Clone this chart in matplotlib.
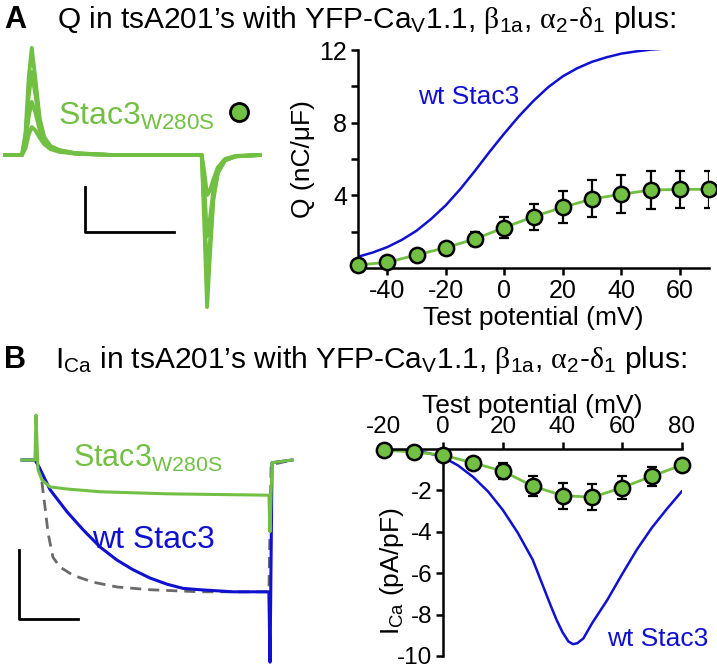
import matplotlib
matplotlib.use("Agg")
import matplotlib.pyplot as plt

plt.rcParams["font.family"] = ["Liberation Sans", "DejaVu Sans"]
plt.rcParams["mathtext.fontset"] = "custom"
plt.rcParams["mathtext.rm"] = "Liberation Sans"
plt.rcParams["mathtext.it"] = "Liberation Sans:italic"
plt.rcParams["mathtext.tt"] = "Liberation Serif"
plt.rcParams["axes.unicode_minus"] = False

GREEN = "#72c043"
BLUE = "#1010d0"
GREY = "#6a6a6a"

# ---- panel A, Q-V ----
qv_v = [-50, -40, -30, -20, -10, 0, 10, 20, 30, 40, 50, 60, 70]
qv_mut = [0.17, 0.31, 0.72, 1.12, 1.6, 2.22, 2.83, 3.34, 3.8, 4.06, 4.29, 4.33, 4.33]
qv_mut_err = [0.1, 0.12, 0.15, 0.18, 0.38, 0.57, 0.72, 0.89, 1.02, 1.05, 1.03, 1.0, 1.0]
qv_wt_v = [-50, -45, -40, -35, -30, -25, -20, -15, -10, -5, 0, 5, 10, 15, 20, 25,
           30, 35, 40, 45, 50, 55, 60, 65, 70]
qv_wt = [0.62, 0.85, 1.15, 1.55, 2.05, 2.7, 3.45, 4.35, 5.35, 6.4, 7.4, 8.35, 9.2,
         9.95, 10.55, 11.0, 11.35, 11.6, 11.8, 11.92, 12.02, 12.08, 12.12, 12.15, 12.17]

# ---- panel B, I-V ----
iv_v = [-20, -10, 0, 10, 20, 30, 40, 50, 60, 70, 80]
iv_mut = [-0.06, -0.14, -0.3, -0.67, -1.07, -1.79, -2.25, -2.33, -1.87, -1.31, -0.78]
iv_mut_err = [0.05, 0.08, 0.12, 0.22, 0.4, 0.48, 0.63, 0.64, 0.56, 0.46, 0.15]
iv_wt_v = [-20, -15, -10, -5, 0, 5, 10, 15, 20, 25, 30, 33, 36, 38, 40, 42, 43.5,
           45, 47, 50, 55, 60, 65, 70, 75, 80]
iv_wt = [0, -0.02, -0.08, -0.2, -0.4, -0.8, -1.35, -2.05, -2.95, -4.05, -5.35, -6.45,
         -7.55, -8.25, -8.85, -9.3, -9.43, -9.38, -9.15, -8.4, -7.3, -6.05, -4.85,
         -3.8, -2.9, -2.05]

# ---- gating current traces (ms, arbitrary units) ----
gq_t = [-1.9, 0.0, 0.4, 0.75, 1.1, 1.5, 2.0, 2.5, 3.2, 4.2, 6.0, 10.0, 15.0,
        20.2, 20.5, 20.8, 21.1, 21.5, 22.0, 22.8, 24.0, 26.7]
gq_traces = [
    [0, 0, 0.5, 1.7, 2.38, 1.7, 0.8, 0.4, 0.2, 0.11, 0.04, 0, 0, 0, -1.6, -3.38, -2.3, -1.0, -0.4, -0.12, -0.03, 0],
    [0, 0, 0.4, 1.3, 1.84, 1.35, 0.7, 0.36, 0.18, 0.1, 0.04, 0, 0, 0, -1.2, -2.71, -2.0, -0.95, -0.4, -0.12, -0.03, 0],
    [0, 0, 0.28, 0.85, 1.18, 0.95, 0.55, 0.3, 0.16, 0.09, 0.03, 0, 0, 0, -0.8, -1.8, -1.45, -0.8, -0.35, -0.1, -0.03, 0],
    [0, 0, 0.15, 0.45, 0.62, 0.55, 0.38, 0.24, 0.13, 0.07, 0.03, 0, 0, 0, -0.4, -0.89, -0.8, -0.55, -0.28, -0.09, -0.02, 0],
]

# ---- calcium current traces (ms, nA) ----
ica_mut_t = [-12, -0.9, 0, 1.7, 5.1, 12, 26.5, 54.7, 112, 199, 200, 201.7, 218.8]
ica_mut = [0, 0, 0.65, -0.14, -0.29, -0.39, -0.42, -0.46, -0.49, -0.51, -1.04, -0.04, 0]
ica_wt_t = [-12, -0.9, 2.6, 12, 26.5, 40.2, 54.7, 69.2, 82.9, 97.4, 112, 125.6,
            140.2, 168.4, 199, 200, 201.7, 218.8]
ica_wt = [0, 0, -0.1, -0.43, -0.75, -1.01, -1.26, -1.45, -1.59, -1.71, -1.8, -1.86,
          -1.88, -1.91, -1.91, -2.93, -0.04, 0]
ica_sc_t = [-12, -0.9, 2.6, 5.1, 7.7, 10.3, 14.5, 20.5, 31.6, 48.7, 69.2, 97.4,
            140.2, 199, 200.9, 218.8]
ica_sc = [0, 0, -0.12, -0.33, -0.68, -1.06, -1.41, -1.55, -1.67, -1.77, -1.84,
          -1.88, -1.91, -1.91, -0.07, 0]

W, H = 717, 670


def box(x0, y0, x1, y1):
    return [x0 / W, 1 - y1 / H, (x1 - x0) / W, (y1 - y0) / H]


fig = plt.figure(figsize=(W / 100, H / 100), dpi=100)

# titles
fig.text(4.5 / W, 1 - 28 / H, "A", fontsize=22, fontweight="bold", va="baseline")
fig.text(57 / W, 1 - 28 / H,
         r"Q in tsA201’s with YFP-Ca$_\mathrm{V}$1.1, $\mathtt{\beta}_\mathrm{1a}$, "
         r"$\mathtt{\alpha}_\mathrm{2}$-$\mathtt{\delta}_\mathrm{1}$ plus:",
         fontsize=21.5, va="baseline")
fig.text(4.5 / W, 1 - 368 / H, "B", fontsize=22, fontweight="bold", va="baseline")
fig.text(55 / W, 1 - 368 / H,
         r"I$_\mathrm{Ca}$ in tsA201’s with YFP-Ca$_\mathrm{V}$1.1, $\mathtt{\beta}_\mathrm{1a}$, "
         r"$\mathtt{\alpha}_\mathrm{2}$-$\mathtt{\delta}_\mathrm{1}$ plus:",
         fontsize=21.5, va="baseline")

# gating current traces
ta = fig.add_axes(box(0, 35, 270, 335))
for tr in gq_traces:
    ta.plot(gq_t, tr, color=GREEN, lw=2.8)
ta.plot([7.1, 7.1, 17.1], [-0.71, -1.71, -1.71], color="black", lw=2)
ta.text(4.0, 0.667, r"Stac3$_\mathrm{W280S}$", color=GREEN, fontsize=23, va="baseline")
ta.plot([24.4], [0.956], "o", ms=13, mfc=GREEN, mec="black", mew=2)
ta.set_xlim(-2.47, 27.87)
ta.set_ylim(-4.0, 2.667)
ta.axis("off")

# Q-V
ax = fig.add_axes(box(358, 50, 709, 268))
ax.plot(qv_wt_v, qv_wt, color=BLUE, lw=1.8, zorder=2)
ax.plot(qv_v, qv_mut, color=GREEN, lw=2, zorder=2)
ax.errorbar(qv_v, qv_mut, yerr=qv_mut_err, fmt="none", ecolor="black",
            elinewidth=1.6, capsize=3.5, capthick=1.6, zorder=3)
ax.plot(qv_v, qv_mut, "o", ms=11, mfc=GREEN, mec="black", mew=1.8, zorder=4, clip_on=False)
ax.text(-29.5, 9.0, "wt Stac3", color=BLUE, fontsize=19, va="baseline")
ax.set_xlim(-50, 70)
ax.set_ylim(0, 12)
ax.set_xticks([-40, -20, 0, 20, 40, 60])
ax.set_yticks([2, 4, 6, 8, 10, 12], labels=["", "4", "", "8", "", "12"])
ax.spines[["top", "right"]].set_visible(False)
ax.spines[["left", "bottom"]].set_linewidth(1.8)
ax.tick_params(direction="out", length=5, width=1.8, labelsize=18, pad=3)
ax.set_xlabel("Test potential (mV)", fontsize=19, labelpad=2)
ax.set_ylabel("Q (nC/μF)", fontsize=19, labelpad=3)

# calcium current traces
tb = fig.add_axes(box(0, 385, 300, 670))
tb.plot(ica_sc_t, ica_sc, color=GREY, lw=2, dashes=(4, 2.5))
tb.plot(ica_wt_t, ica_wt, color=BLUE, lw=2.2)
tb.plot(ica_mut_t, ica_mut, color=GREEN, lw=2.2)
tb.plot([-14.5, -14.5, 35.5], [-1.30, -2.30, -2.30], color="black", lw=2)
tb.text(31.6, -0.10, r"Stac3$_\mathrm{W280S}$", color=GREEN, fontsize=22, va="baseline")
tb.text(47.9, -1.275, "wt Stac3", color=BLUE, fontsize=23, va="baseline")
tb.set_xlim(-30.77, 225.6)
tb.set_ylim(-3.043, 1.087)
tb.axis("off")

# I-V
bx = fig.add_axes(box(383.7, 449, 681.7, 656))
bx.plot(iv_wt_v, iv_wt, color=BLUE, lw=1.8, zorder=2)
bx.plot(iv_v, iv_mut, color=GREEN, lw=2, zorder=2)
bx.errorbar(iv_v, iv_mut, yerr=iv_mut_err, fmt="none", ecolor="black",
            elinewidth=1.6, capsize=3.5, capthick=1.6, zorder=3)
bx.plot(iv_v, iv_mut, "o", ms=11, mfc=GREEN, mec="black", mew=1.8, zorder=4, clip_on=False)
bx.text(54.9, -9.5, "wt Stac3", color=BLUE, fontsize=19, va="baseline")
bx.set_xlim(-20, 80)
bx.set_ylim(-10, 0)
bx.spines[["bottom", "right"]].set_visible(False)
bx.spines["left"].set_position(("data", 0))
bx.spines[["left", "top"]].set_linewidth(1.8)
bx.xaxis.tick_top()
bx.xaxis.set_label_position("top")
bx.set_xticks([-20, 0, 20, 40, 60, 80])
bx.set_yticks([-10, -8, -6, -4, -2])
bx.tick_params(direction="out", length=5, width=1.8, labelsize=17.5, pad=3)
bx.set_xlabel("Test potential (mV)", fontsize=19, labelpad=2)
bx.set_ylabel(r"I$_\mathrm{Ca}$ (pA/pF)", fontsize=19)
bx.yaxis.set_label_coords(0.075, 0.41)

fig.savefig("out.png", dpi=100)
